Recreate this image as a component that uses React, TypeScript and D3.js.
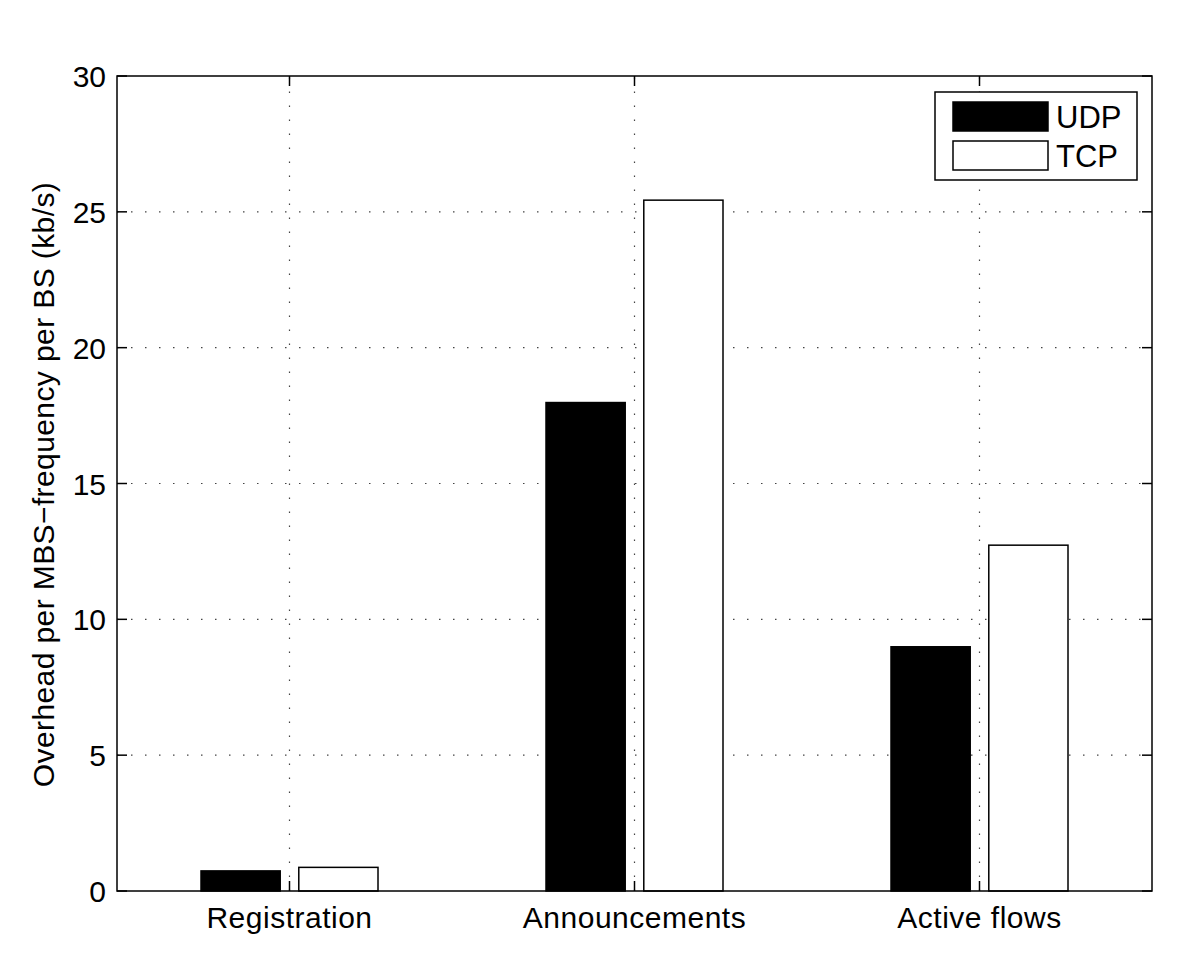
import * as d3 from "d3";
import { useEffect, useRef } from "react";

const categories = ["Registration", "Announcements", "Active flows"];
const seriesNames = ["UDP", "TCP"];
const udpValues = [0.74, 17.98, 8.99];
const tcpValues = [0.87, 25.43, 12.73];
const yTicks = [0, 5, 10, 15, 20, 25, 30];

const W = 1200;
const H = 976;
const margin = { top: 76, right: 48, bottom: 85, left: 117 };
const FONT = "'Liberation Sans', Arial, Helvetica, sans-serif";
const FS = 30;

const App = () => {
    const ref = useRef(null);

    useEffect(() => {
        const svg = d3.select(ref.current);
        svg.selectAll("*").remove();

        const x0 = margin.left;
        const x1 = W - margin.right;
        const y0 = H - margin.bottom;
        const y1 = margin.top;

        const x = d3.scaleBand().domain(categories).range([x0, x1]).padding(0);
        const inner = d3.scaleBand().domain(seriesNames).range([-88.5, 88.5]).paddingInner(0.19);
        const y = d3.scaleLinear().domain([0, 30]).range([y0, y1]);

        svg.append("rect").attr("width", W).attr("height", H).attr("fill", "#fff");

        // grid
        const grid = svg.append("g").attr("stroke", "#444").attr("stroke-width", 1.2)
            .attr("stroke-dasharray", "1.5,12.5");
        yTicks.filter(t => t > 0 && t < 30).forEach(t => {
            grid.append("line").attr("x1", x0).attr("x2", x1)
                .attr("y1", y(t)).attr("y2", y(t));
        });
        categories.forEach(c => {
            const cx = x(c) + x.bandwidth() / 2;
            grid.append("line").attr("x1", cx).attr("x2", cx)
                .attr("y1", y0).attr("y2", y1);
        });

        // bars
        const rows = categories.map((c, i) => ({ c, vals: [udpValues[i], tcpValues[i]] }));
        rows.forEach(r => {
            const cx = x(r.c) + x.bandwidth() / 2;
            r.vals.forEach((v, j) => {
                const s = seriesNames[j];
                svg.append("rect")
                    .attr("x", cx + inner(s))
                    .attr("y", y(v))
                    .attr("width", inner.bandwidth())
                    .attr("height", y0 - y(v))
                    .attr("fill", j === 0 ? "#000" : "#fff")
                    .attr("stroke", "#000")
                    .attr("stroke-width", 1.5);
            });
        });

        // box
        svg.append("rect").attr("x", x0).attr("y", y1)
            .attr("width", x1 - x0).attr("height", y0 - y1)
            .attr("fill", "none").attr("stroke", "#000").attr("stroke-width", 1.5);

        // ticks inward
        const tk = svg.append("g").attr("stroke", "#000").attr("stroke-width", 1.5);
        yTicks.forEach(t => {
            tk.append("line").attr("x1", x0).attr("x2", x0 + 10).attr("y1", y(t)).attr("y2", y(t));
            tk.append("line").attr("x1", x1).attr("x2", x1 - 10).attr("y1", y(t)).attr("y2", y(t));
        });
        categories.forEach(c => {
            const cx = x(c) + x.bandwidth() / 2;
            tk.append("line").attr("x1", cx).attr("x2", cx).attr("y1", y0).attr("y2", y0 - 10);
            tk.append("line").attr("x1", cx).attr("x2", cx).attr("y1", y1).attr("y2", y1 + 10);
        });

        // tick labels
        yTicks.forEach(t => {
            svg.append("text").attr("x", x0 - 11).attr("y", y(t) + 11)
                .attr("text-anchor", "end").attr("font-family", FONT).attr("font-size", FS)
                .text(t);
        });
        categories.forEach(c => {
            svg.append("text").attr("x", x(c) + x.bandwidth() / 2).attr("y", y0 + 37)
                .attr("text-anchor", "middle").attr("font-family", FONT).attr("font-size", FS)
                .attr("letter-spacing", 0.5)
                .text(c);
        });

        // y label
        svg.append("text")
            .attr("transform", `translate(54, ${(y0 + y1) / 2 + 1}) rotate(-90)`)
            .attr("text-anchor", "middle").attr("font-family", FONT).attr("font-size", FS)
            .attr("letter-spacing", 0.4)
            .text("Overhead per MBS\u2212frequency per BS (kb/s)");

        // legend
        const lg = svg.append("g");
        lg.append("rect").attr("x", 935).attr("y", 92).attr("width", 202).attr("height", 88)
            .attr("fill", "#fff").attr("stroke", "#000").attr("stroke-width", 1.5);
        seriesNames.forEach((s, j) => {
            const ly = 102 + j * 39;
            lg.append("rect").attr("x", 953).attr("y", ly).attr("width", 95).attr("height", 29)
                .attr("fill", j === 0 ? "#000" : "#fff").attr("stroke", "#000").attr("stroke-width", 1.5);
            lg.append("text").attr("x", 1056).attr("y", ly + 26)
                .attr("font-family", FONT).attr("font-size", 31).text(s);
        });
    }, []);

    return <svg ref={ref} width={W} height={H} style={{ display: "block", margin: "-8px" }}></svg>;
};

export default App;
